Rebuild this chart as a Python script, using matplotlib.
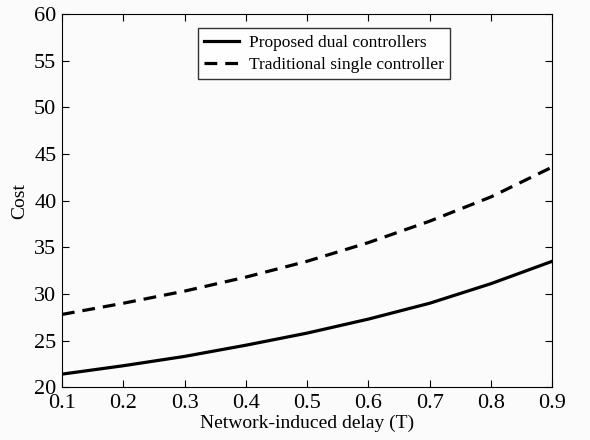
import numpy as np
import matplotlib.pyplot as plt

plt.rcParams['font.family'] = ['Liberation Serif', 'DejaVu Serif']

delay = [0.1, 0.2, 0.3, 0.4, 0.5, 0.6, 0.7, 0.8, 0.9]
cost_dual = [21.4, 22.3, 23.3, 24.5, 25.8, 27.3, 29.0, 31.1, 33.5]
cost_single = [27.8, 29.0, 30.3, 31.8, 33.5, 35.5, 37.8, 40.4, 43.6]

fig = plt.figure(figsize=(5.9, 4.4), dpi=100, facecolor='#fbfbfb')
ax = fig.add_axes([0.105, 0.12, 0.831, 0.848])
ax.set_facecolor('#fbfbfb')

ax.plot(delay, cost_dual, '-', color='black', lw=2.3, label='Proposed dual controllers')
ax.plot(delay, cost_single, '--', color='black', lw=2.3, dashes=(4, 2.5),
        label='Traditional single controller')

ax.set_xlim(0.1, 0.9)
ax.set_ylim(20, 60)
ax.set_xticks(np.arange(0.1, 0.91, 0.1))
ax.set_xticklabels(['0.1', '0.2', '0.3', '0.4', '0.5', '0.6', '0.7', '0.8', '0.9'])
ax.set_yticks(range(20, 61, 5))
ax.tick_params(direction='in', top=True, right=True, labelsize=16, length=5)
ax.tick_params(axis='x', pad=5)
ax.tick_params(axis='y', pad=4)
ax.set_xlabel('Network-induced delay (T)', fontsize=14, labelpad=1)
ax.set_ylabel('Cost', fontsize=14, labelpad=4)

leg = ax.legend(loc='upper center', bbox_to_anchor=(0.535, 0.985), fontsize=12.5,
                frameon=True, fancybox=False, edgecolor='black',
                handlelength=2.0, handletextpad=0.6, borderpad=0.35,
                labelspacing=0.35)
leg.get_frame().set_linewidth(1.0)

fig.savefig('out.png', dpi=100, facecolor=fig.get_facecolor())
